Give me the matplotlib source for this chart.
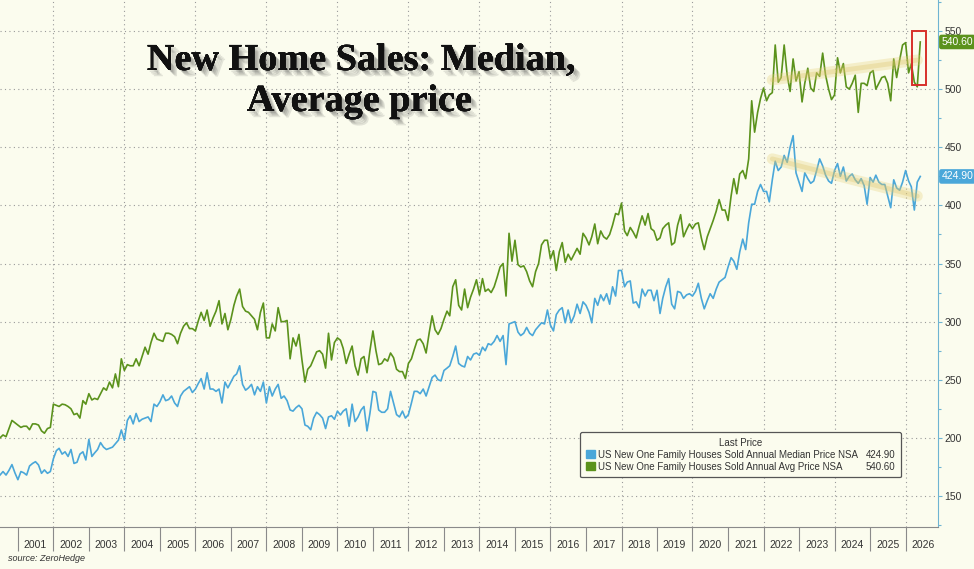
import matplotlib
matplotlib.use("Agg")
import matplotlib.pyplot as plt
import matplotlib.dates as mdates
import matplotlib.patheffects as pe
from matplotlib.patches import Patch, Rectangle
from matplotlib.ticker import FixedLocator, NullFormatter, MultipleLocator
from datetime import datetime
import pandas as pd

# monthly data, Jul 2000 .. Jun 2026 (thousands of USD)
months = pd.date_range("2000-07-01", periods=312, freq="MS")

avg_price = [
    200, 202.5, 201, 208, 215, 213,
    211, 209, 210, 210, 207, 212, 212, 211, 206, 204, 208, 209,
    229, 228, 227, 229, 228.5, 227, 225, 220, 221, 217, 232, 229,
    238, 232.6, 234, 233, 238, 243, 241, 248, 243, 255, 244, 268,
    258, 263, 262, 262, 268, 262, 270, 278, 272, 282, 290, 285,
    284, 283, 290, 290, 289, 287, 281, 290, 296, 299, 294, 294,
    292, 301, 308, 301, 310, 296, 303, 309, 318, 298, 307, 293,
    302, 314, 322, 328, 313, 309, 308, 305, 302, 293, 308, 316,
    286, 286, 298, 292, 312, 300, 300, 301, 268, 286, 279, 289,
    267, 248, 259, 262, 268, 274, 275, 272, 260, 290, 267, 282,
    286, 284, 277, 264, 272, 279, 262, 254, 268, 270, 256, 275,
    292, 275, 263, 264, 268, 266, 273, 269, 259, 257, 257, 251,
    264, 268, 276, 284, 285, 281, 273, 290, 305, 293, 289, 294,
    302, 309, 305, 330, 336, 314, 310, 328, 312, 321, 328, 336,
    323, 337, 326, 328, 325, 330, 338, 347, 350, 322, 376, 352,
    370, 349, 347, 348, 343, 335, 330, 343, 350, 366, 370, 370,
    354, 361, 344, 360, 368, 351, 358, 353, 358, 363, 358, 376,
    372, 366, 373, 384, 367, 378, 373, 371, 375, 383, 393, 392,
    402, 378, 374, 381, 377, 372, 382, 391, 383, 393, 380, 378,
    370, 372, 380, 383, 385, 366, 368, 383, 392, 373, 379, 384,
    380, 384, 385, 372, 362, 373, 380, 387, 395, 405, 396, 396,
    387, 408, 423, 410, 427, 430, 423, 440, 490, 463, 480, 492,
    501, 490, 495, 497, 538, 506, 510, 538, 512, 498, 526, 507,
    515, 489, 505, 518, 501, 498, 514, 511, 531, 512, 500, 491,
    495, 527, 514, 522, 502, 500, 505, 512, 480, 505, 505, 503,
    514, 516, 500, 505, 510, 511, 505, 490, 526, 510, 525, 538,
    540, 514, 522, 506, 502, 540.6,
]

median_price = [
    168, 171, 168, 172, 177, 170,
    164, 171, 170, 168, 175.8, 178, 179.5, 176.7, 169.5, 172.4, 169.5, 171,
    182, 189, 191, 186, 188, 184, 190, 178, 179, 186, 188, 181,
    198.7, 184, 187, 190, 195.9, 192, 190, 191, 192, 195, 198, 206.8,
    198, 215, 219, 212, 221, 214, 216, 217, 218, 214, 229, 227,
    231, 237, 232, 233, 236, 230, 227, 236, 240, 242, 244, 239,
    242, 247, 251, 242, 256, 242, 242, 240, 242, 230, 248, 243,
    248, 253, 255, 262, 246, 241, 243, 246, 237, 244, 240, 248,
    230, 244, 236, 242, 246, 234, 236, 232, 224, 223, 226, 228,
    225, 211, 210, 207, 217, 222, 220, 217, 208, 218, 219, 216,
    223, 219.7, 223, 225, 210, 229, 214, 218, 224, 227, 206, 221,
    240, 239, 224, 222, 222, 225, 240, 230, 220, 218, 223, 217,
    220, 230, 240, 240, 238, 242, 236, 244, 252, 254, 250, 249,
    258, 260, 262, 270, 279, 264, 262, 261, 270, 267, 272, 273,
    271, 278, 275, 281, 280, 283, 288, 283, 288, 263, 298, 299,
    300, 291, 288, 290, 295, 290, 288, 293, 296, 299, 298, 310,
    297, 292, 306, 310, 312, 299, 310, 299, 305, 315, 307, 317,
    314, 308, 299, 320, 314, 323, 318, 324, 315, 330, 322, 344,
    344, 330, 334, 335, 316, 317, 312, 328, 322, 327, 327, 318,
    327, 307, 320, 330, 337, 315, 311, 326, 325, 320, 323, 324,
    322, 326, 333, 320, 311, 318, 324, 320, 328, 334, 336, 338,
    347, 355, 352, 345, 360, 371, 362, 385, 401, 401, 412, 418,
    412, 412, 403, 422, 438, 430, 433, 443, 437, 450, 460, 428,
    420, 412, 428, 423, 419, 421, 430, 440, 434, 426, 421, 419,
    430, 436, 425, 433, 421, 425, 427, 422, 419, 423, 417, 401,
    424, 420, 426, 420, 418, 418, 408, 398, 422, 415, 413, 420,
    430, 421, 416, 396, 420, 424.9,
]

median_label = "US New One Family Houses Sold Annual Median Price NSA"
avg_label = "US New One Family Houses Sold Annual Avg Price NSA"

# hand drawn highlighter trends and the red box (annotations)
trend_dates = [datetime(2022, 4, 1), datetime(2026, 5, 1)]
trend_avg = [508, 525]
trend_median = [440, 408]
box_dates = [datetime(2026, 3, 10), datetime(2026, 8, 1)]
box_values = [504, 550]

years = list(range(2001, 2027))

bg = "#fbfcee"
green = "#5b921c"
blue = "#4aa7d9"
axis_blue = "#6fb4d2"

plt.rcParams["font.family"] = ["Liberation Sans", "DejaVu Sans"]

fig = plt.figure(figsize=(9.74, 5.69), dpi=100, facecolor=bg)
ax = fig.add_axes([0, 0.0738, 0.9627, 0.9262])
ax.set_facecolor(bg)

ax.plot(months, avg_price, color=green, lw=1.2, zorder=3)
ax.plot(months, median_price, color=blue, lw=1.2, zorder=3)

# highlighter strokes
for vals in (trend_avg, trend_median):
    ax.plot(trend_dates, vals, color="#e6cf74", lw=8, alpha=0.3,
            solid_capstyle="round", zorder=4)
    ax.plot(trend_dates, vals, color="#dcc264", lw=3.5, alpha=0.3,
            solid_capstyle="round", zorder=4)

x0, x1 = mdates.date2num(box_dates[0]), mdates.date2num(box_dates[1])
ax.add_patch(Rectangle((x0, box_values[0]), x1 - x0, box_values[1] - box_values[0],
                       fill=False, edgecolor="#d8302a", lw=1.4, zorder=5))

ax.set_xlim(datetime(2000, 7, 1), datetime(2026, 11, 27))
ax.set_ylim(123.3, 576.7)

# y axis on the right
ax.yaxis.tick_right()
ax.set_yticks(range(150, 551, 50))
ax.yaxis.set_minor_locator(MultipleLocator(25))
ax.tick_params(axis="y", which="major", length=3, width=0.8, color=axis_blue,
               labelsize=7.5, pad=2, labelcolor="#333333")
ax.tick_params(axis="y", which="minor", length=2, width=0.8, color=axis_blue)
ax.grid(axis="y", which="major", linestyle=(0, (1, 3)), color="#9a9a9a", lw=0.8)

# x axis: year separators + centred year labels
ax.xaxis.set_major_locator(FixedLocator([mdates.date2num(datetime(y, 1, 1)) for y in years]))
ax.xaxis.set_major_formatter(NullFormatter())
ax.xaxis.set_minor_locator(FixedLocator([mdates.date2num(datetime(y, 7, 1)) for y in years]))
ax.xaxis.set_minor_formatter(mdates.DateFormatter("%Y"))
ax.tick_params(axis="x", which="major", length=17, width=0.8, color="#8a8a8a")
ax.tick_params(axis="x", which="minor", length=0, labelsize=7.5, pad=9, labelcolor="#333333")
for y in range(2002, 2027, 2):
    ax.axvline(datetime(y, 1, 1), linestyle=(0, (1, 3)), color="#9a9a9a", lw=0.8, zorder=1)

for side in ["left", "top"]:
    ax.spines[side].set_visible(False)
ax.spines["right"].set_color(axis_blue)
ax.spines["bottom"].set_color("#8a8a8a")

# last value tags
ax.text(1.004, avg_price[-1], f"{avg_price[-1]:.2f}", transform=ax.get_yaxis_transform(),
        ha="left", va="center", fontsize=7.5, color="white", clip_on=False,
        bbox=dict(boxstyle="round,pad=0.22", fc=green, ec="none"))
ax.text(1.004, median_price[-1], f"{median_price[-1]:.2f}", transform=ax.get_yaxis_transform(),
        ha="left", va="center", fontsize=7.5, color="white", clip_on=False,
        bbox=dict(boxstyle="round,pad=0.22", fc=blue, ec="none"))

# legend
handles = [Patch(color=blue), Patch(color=green), Patch(alpha=0), Patch(alpha=0)]
labels = [median_label, avg_label, f"{median_price[-1]:.2f}", f"{avg_price[-1]:.2f}"]
leg = ax.legend(handles, labels, ncol=2, title="Last Price", loc="lower right",
                bbox_to_anchor=(0.966, 0.0848), fontsize=7, title_fontsize=7,
                handlelength=0.9, handleheight=0.9, handletextpad=0.3,
                columnspacing=-0.4, borderpad=0.6, labelspacing=0.2,
                fancybox=True, framealpha=1, facecolor=bg, edgecolor="#555555")
leg.get_frame().set_linewidth(0.9)
for t in leg.get_texts():
    t.set_color("#333333")
leg.get_title().set_color("#333333")

# title with soft shadow
shadow = [pe.withSimplePatchShadow(offset=(o, -o), shadow_rgbFace="#333333", alpha=0.12)
          for o in (1.5, 2.5, 3.5, 4.5)] + [pe.Normal()]
fig.text(0.371, 0.877, "New Home Sales: Median,", ha="center", va="baseline",
         fontsize=27.5, fontweight="bold", family="Liberation Serif", color="#111111",
         path_effects=shadow)
fig.text(0.369, 0.805, "Average price", ha="center", va="baseline",
         fontsize=27.5, fontweight="bold", family="Liberation Serif", color="#111111",
         path_effects=shadow)

fig.text(0.008, 0.0176, "source: ZeroHedge", style="italic", fontsize=6.5,
         color="#333333", va="center")

fig.savefig("out.png", dpi=100, facecolor=bg)
